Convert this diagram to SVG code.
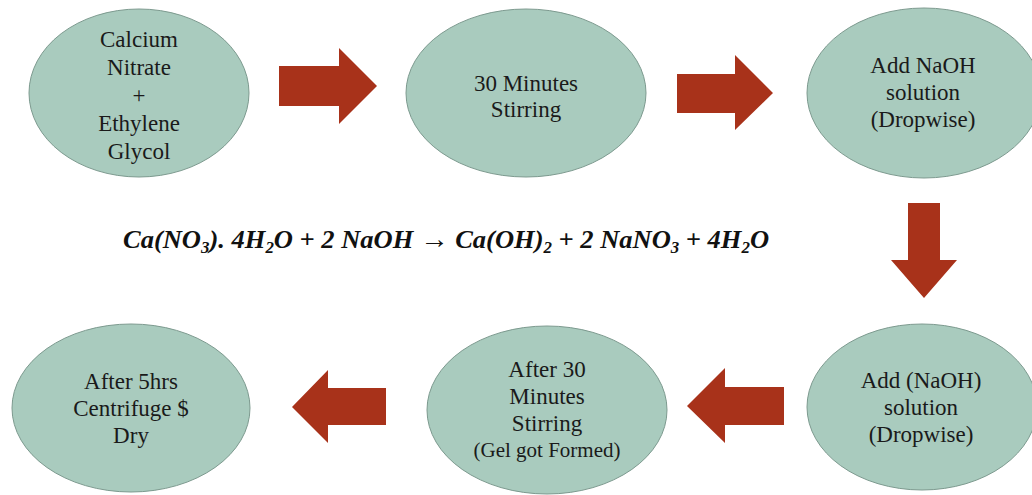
<svg xmlns="http://www.w3.org/2000/svg" width="1032" height="495" viewBox="0 0 1032 495">
<style>
.node ellipse{fill:#a9cbbe;stroke:#7d9a8f;stroke-width:1}
.node text{font-family:'Liberation Serif','Times New Roman',Times,'DejaVu Serif',serif;font-size:23px;fill:#1a1a1a;text-anchor:middle}
.arrow{fill:#a8321a}
.eq{font-family:'Liberation Serif','Times New Roman',Times,'DejaVu Serif',serif;font-size:25px;font-weight:bold;font-style:italic;fill:#111}
.sub{font-size:16px}
.arr{font-weight:normal;font-style:normal;font-size:27px}
</style>
<rect width="1032" height="495" fill="#ffffff"/>
<g id="connectors">
<polygon class="arrow" points="279,66 339,66 339,48 377,86 339,124 339,106 279,106"/>
<polygon class="arrow" points="677,74 735,74 735,55 773,93 735,130 735,113 677,113"/>
<polygon class="arrow" points="908,203 940,203 940,260 957,260 924,298 891,260 908,260"/>
<polygon class="arrow" points="784,387 725,387 725,368 687,406 725,443 725,425 784,425"/>
<polygon class="arrow" points="386,388 328,388 328,370 292,407 328,443 328,425 386,425"/>
</g>
<g id="node1" class="node">
<ellipse cx="139" cy="93" rx="110" ry="84"/>
<text x="139" y="47">Calcium</text>
<text x="139" y="75">Nitrate</text>
<text x="139" y="103">+</text>
<text x="139" y="131">Ethylene</text>
<text x="139" y="159">Glycol</text>
</g>
<g id="node2" class="node">
<ellipse cx="526" cy="93" rx="120" ry="84"/>
<text x="526" y="91">30 Minutes</text>
<text x="526" y="117">Stirring</text>
</g>
<g id="node3" class="node">
<ellipse cx="924" cy="93" rx="117" ry="85"/>
<text x="923" y="73">Add NaOH</text>
<text x="923" y="100">solution</text>
<text x="923" y="127">(Dropwise)</text>
</g>
<g id="node4" class="node">
<ellipse cx="922" cy="407" rx="115" ry="83"/>
<text x="921" y="388">Add (NaOH)</text>
<text x="921" y="415">solution</text>
<text x="921" y="442">(Dropwise)</text>
</g>
<g id="node5" class="node">
<ellipse cx="547" cy="410" rx="120" ry="84"/>
<text x="547" y="377">After 30</text>
<text x="547" y="404">Minutes</text>
<text x="547" y="431">Stirring</text>
<text x="547" y="457" style="font-size:21px">(Gel got Formed)</text>
</g>
<g id="node6" class="node">
<ellipse cx="131" cy="408" rx="119" ry="84"/>
<text x="131" y="389">After 5hrs</text>
<text x="131" y="416">Centrifuge $</text>
<text x="131" y="443">Dry</text>
</g>
<g id="equation">
<text class="eq" transform="translate(123,0) scale(1.06,1)" x="0" y="248">Ca(NO<tspan class="sub" dy="5">3</tspan><tspan dy="-5">). 4H</tspan><tspan class="sub" dy="5">2</tspan><tspan dy="-5">O + 2 NaOH </tspan><tspan class="arr">→</tspan> Ca(OH)<tspan class="sub" dy="5">2</tspan><tspan dy="-5"> + 2 NaNO</tspan><tspan class="sub" dy="5">3</tspan><tspan dy="-5"> + 4H</tspan><tspan class="sub" dy="5">2</tspan><tspan dy="-5">O</tspan></text>
</g>
</svg>
